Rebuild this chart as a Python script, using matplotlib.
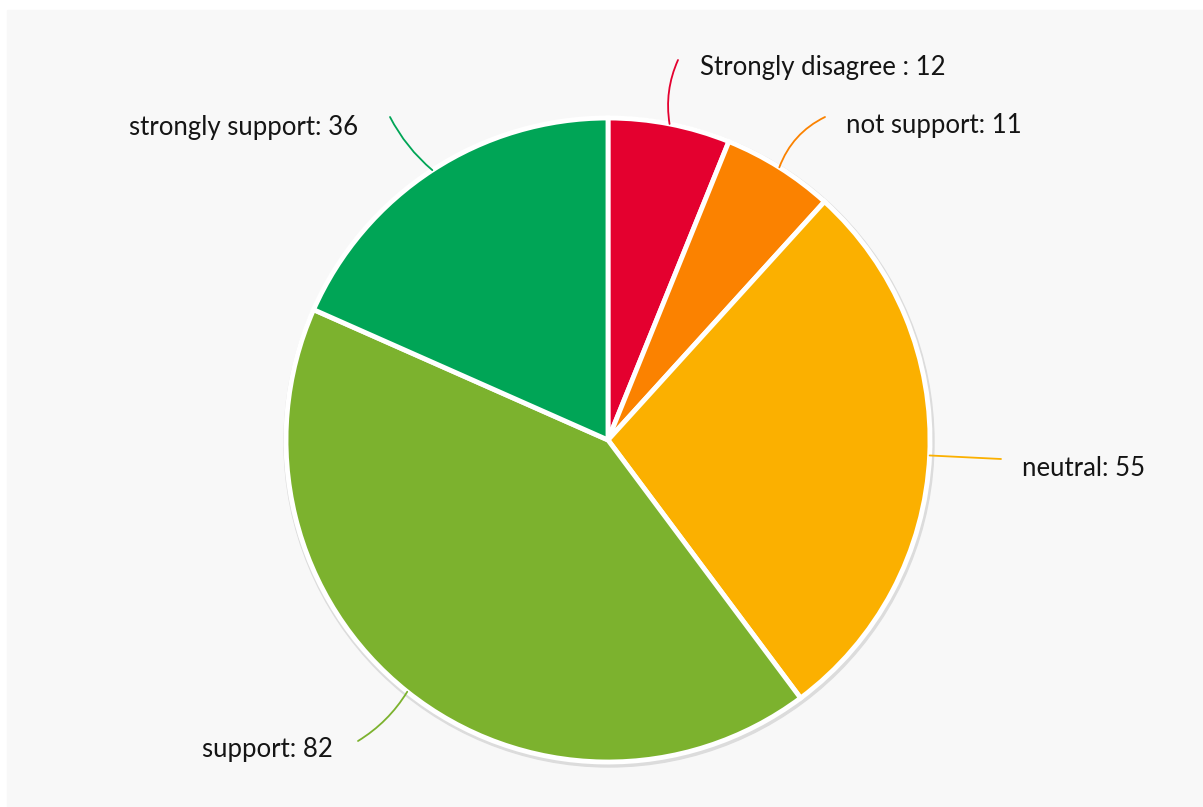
import numpy as np
import matplotlib
matplotlib.use("Agg")
import matplotlib.pyplot as plt
from matplotlib.patches import Rectangle, Circle

labels = ["Strongly disagree : 12", "not support: 11", "neutral: 55", "support: 82", "strongly support: 36"]
values = [12, 11, 55, 82, 36]
colors = ["#e4002f", "#fb8200", "#fbb000", "#7cb22e", "#00a556"]

# label text anchors (pixels, top-left origin), line end, alignment, curvature
text_pos = [(700, 68), (846, 126), (1022, 468), (333, 750), (358, 127)]
line_end = [(678, 60), (825, 117), (1001, 459), (358, 741), (390, 117)]
aligns = ["left", "left", "left", "right", "right"]
rads = [0.15, 0.2, 0.0, 0.12, 0.1]

W, H = 1203, 807
cx, cy, R = 608, 440, 322

fig = plt.figure(figsize=(W / 100, H / 100), dpi=100)
fig.patch.set_facecolor("white")
ax = fig.add_axes([0, 0, 1, 1])
ax.set_xlim(0, W)
ax.set_ylim(0, H)
ax.axis("off")

ax.add_patch(Rectangle((7, 0), W - 7, H - 10, color="#f8f8f8", zorder=0))
# soft shadow ring
ax.add_patch(Circle((cx + 1, H - cy - 2), R + 3, color="#dcdcdc", zorder=1))

wedges, _ = ax.pie(values, colors=colors, startangle=90, counterclock=False,
                   center=(cx, H - cy), radius=R, frame=True,
                   wedgeprops=dict(edgecolor="white", linewidth=3.5))
for w in wedges:
    w.set_zorder(2)
ax.set_xlim(0, W)
ax.set_ylim(0, H)
ax.set_aspect("equal")
ax.axis("off")

total = sum(values)
start = 0.0
for i, v in enumerate(values):
    mid = np.deg2rad((start + v / 2) / total * 360)
    start += v
    x0 = cx + R * np.sin(mid)
    y0 = H - (cy - R * np.cos(mid))
    ex, ey = line_end[i]
    ax.annotate("", xy=(x0, y0), xytext=(ex, H - ey),
                arrowprops=dict(arrowstyle="-", color=colors[i], lw=1.3,
                                shrinkA=0, shrinkB=0,
                                connectionstyle="arc3,rad=%s" % rads[i]),
                zorder=3)
    tx, ty = text_pos[i]
    ax.text(tx, H - ty, labels[i], ha=aligns[i], va="center",
            fontsize=18.5, family="Lato", color="#151515", zorder=4)

fig.savefig("out.png", dpi=100)
